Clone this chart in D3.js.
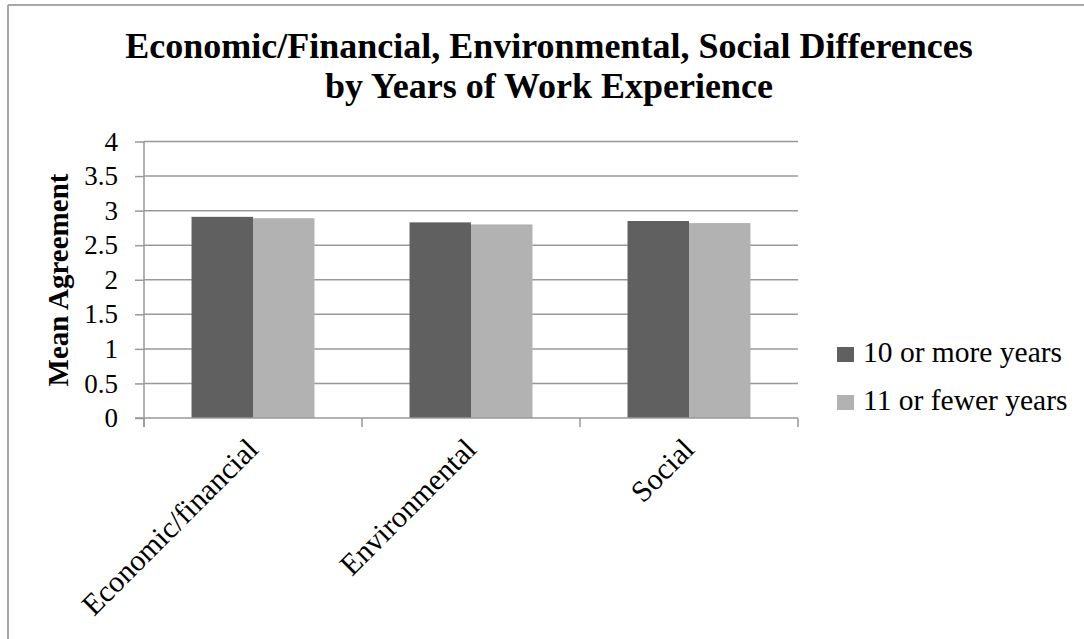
<!DOCTYPE html>
<html>
<head>
<meta charset="utf-8">
<script src="https://cdn.jsdelivr.net/npm/d3@7"></script>
<style>
  html, body { margin: 0; padding: 0; background: #fff; }
  svg { display: block; }
  text { font-family: "Liberation Serif", "Times New Roman", serif; fill: #000; }
</style>
</head>
<body>
<svg id="chart" width="1084" height="639"></svg>
<script>
// Mean agreement by category, split by years of work experience
const categories = ["Economic/financial", "Environmental", "Social"];
const seriesNames = ["10 or more years", "11 or fewer years"];
const tenOrMore = [2.91, 2.83, 2.85];
const elevenOrFewer = [2.89, 2.80, 2.82];
const yTicks = [0, 0.5, 1, 1.5, 2, 2.5, 3, 3.5, 4];
const titleLines = ["Economic/Financial, Environmental, Social Differences", "by Years of Work Experience"];
const yLabel = "Mean Agreement";

const seriesColors = ["#606060", "#b2b2b2"];
const seriesValues = [tenOrMore, elevenOrFewer];

const svg = d3.select("#chart");

// frame lines along the top and left edges
svg.append("line").attr("x1", 8).attr("y1", 5).attr("x2", 1084).attr("y2", 5)
  .attr("stroke", "#a6a6a6").attr("stroke-width", 2);
svg.append("line").attr("x1", 8).attr("y1", 5).attr("x2", 8).attr("y2", 639)
  .attr("stroke", "#a6a6a6").attr("stroke-width", 2);

const plot = { left: 144, right: 798, top: 141.5, bottom: 418 };

const y = d3.scaleLinear().domain([0, 4]).range([plot.bottom, plot.top]);
const x0 = d3.scaleBand().domain(categories).range([plot.left, plot.right])
  .paddingInner(0.436).paddingOuter(0.218);
const x1 = d3.scaleBand().domain(seriesNames).range([0, x0.bandwidth()]);

// title
const title = svg.append("text").attr("text-anchor", "middle")
  .style("font-weight", "bold").style("font-size", "36px");
titleLines.forEach((t, i) => {
  title.append("tspan").attr("x", 549).attr("y", 58 + i * 40).text(t);
});

// horizontal gridlines
svg.append("g").selectAll("line").data(yTicks.filter(d => d > 0)).join("line")
  .attr("x1", plot.left).attr("x2", plot.right)
  .attr("y1", d => y(d)).attr("y2", d => y(d))
  .attr("stroke", "#999").attr("stroke-width", 1.5);

// bars
const groups = svg.append("g").selectAll("g").data(categories).join("g")
  .attr("transform", d => `translate(${x0(d)},0)`);
groups.selectAll("rect")
  .data((c, ci) => seriesNames.map((s, si) => ({ s, v: seriesValues[si][ci], color: seriesColors[si] })))
  .join("rect")
  .attr("x", d => x1(d.s))
  .attr("y", d => y(d.v))
  .attr("width", x1.bandwidth())
  .attr("height", d => y(0) - y(d.v))
  .attr("fill", d => d.color);

// y axis
const yAxis = d3.axisLeft(y).tickValues(yTicks).tickSize(9).tickPadding(17)
  .tickFormat(d3.format("~g"));
const gy = svg.append("g").attr("transform", `translate(${plot.left},0)`).call(yAxis);
gy.select(".domain").attr("stroke", "#999").attr("stroke-width", 1.5)
  .attr("d", `M0,${plot.top}V${plot.bottom + 9}`);
gy.selectAll(".tick line").attr("stroke", "#999").attr("stroke-width", 1.5);
gy.selectAll(".tick text").style("font-size", "27px")
  .style("font-family", "'Liberation Serif', 'Times New Roman', serif").attr("fill", "#000");

// x axis line and boundary ticks
const xAxisG = svg.append("g");
xAxisG.append("line").attr("x1", plot.left - 9).attr("x2", plot.right)
  .attr("y1", plot.bottom).attr("y2", plot.bottom)
  .attr("stroke", "#999").attr("stroke-width", 1.5);
const boundaries = categories.map(c => x0(c) - x0.step() * x0.paddingInner() / 2)
  .concat([plot.right]);
xAxisG.selectAll("line.b").data(boundaries).join("line").attr("class", "b")
  .attr("x1", d => d).attr("x2", d => d)
  .attr("y1", plot.bottom).attr("y2", plot.bottom + 9)
  .attr("stroke", "#999").attr("stroke-width", 1.5);

// rotated category labels
svg.append("g").selectAll("text").data(categories).join("text")
  .attr("text-anchor", "end")
  .attr("transform", d => `translate(${x0(d) + x0.bandwidth() / 2 + 7},${451}) rotate(-45)`)
  .style("font-size", "30px")
  .text(d => d);

// y axis title
svg.append("text")
  .attr("transform", `translate(68,280) rotate(-90)`)
  .attr("text-anchor", "middle")
  .style("font-weight", "bold").style("font-size", "29px")
  .text(yLabel);

// legend
const legend = svg.append("g").selectAll("g").data(seriesNames).join("g")
  .attr("transform", (d, i) => `translate(837,${347 + i * 48})`);
legend.append("rect").attr("width", 17).attr("height", 15)
  .attr("fill", (d, i) => seriesColors[i]);
legend.append("text").attr("x", 26).attr("y", 15)
  .style("font-size", "29.5px").text(d => d);
</script>
</body>
</html>
